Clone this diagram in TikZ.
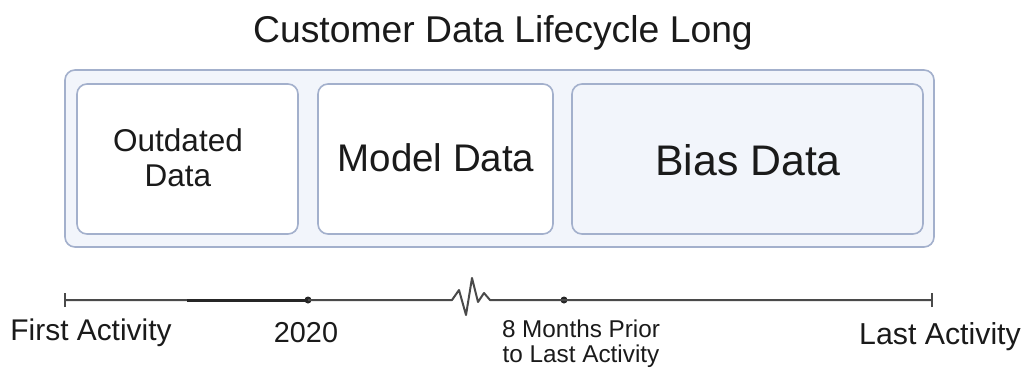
\documentclass[tikz,border=0pt]{standalone}
\usepackage{fontspec}
\setmainfont{Liberation Sans}
\definecolor{panelfill}{HTML}{F2F5FB}
\definecolor{panelline}{HTML}{A3B0CC}
\definecolor{axisgray}{HTML}{4A4A4A}
\definecolor{axisdark}{HTML}{262626}
\definecolor{txt}{HTML}{1A1A1A}
\tikzset{
  panel/.style={draw=panelline, line width=1.6pt, rounded corners=10pt, fill=#1, inner sep=0pt},
  lbl/.style={text=txt, inner sep=0pt, anchor=base},
  axis/.style={draw=axisgray, line width=2pt},
  tick/.style={draw=axisgray, line width=2pt},
  dotmark/.style={circle, fill=axisdark, inner sep=0pt, minimum size=7pt}
}
\begin{document}
\begin{tikzpicture}[x=1pt, y=-1pt]
\useasboundingbox (0,0) rectangle (1027,370);
% title
\node[lbl, font=\fontsize{37.3}{44}\selectfont] (title) at (503,42) {Customer Data Lifecycle Long};
% outer panel
\node[panel=panelfill, minimum width=869pt, minimum height=177pt] (outer) at (499.5,158.5) {};
% inner boxes
\node[panel=white, minimum width=221pt, minimum height=150pt] (b1) at (187.5,159) {};
\node[panel=white, minimum width=235pt, minimum height=150pt] (b2) at (435.5,159) {};
\node[panel=panelfill, minimum width=351pt, minimum height=150pt] (b3) at (747.5,159) {};
\node[text=txt, inner sep=0pt, align=center, font=\fontsize{31.5}{35}\selectfont] (t1) at (178,158) {Outdated\\Data};
\node[lbl, font=\fontsize{38.5}{45}\selectfont] (t2) at (436,171) {Model Data};
\node[lbl, font=\fontsize{42.8}{50}\selectfont] (t3) at (748,175) {Bias Data};
% timeline
\coordinate (start) at (65,300);
\coordinate (zs) at (452,300);
\coordinate (ze) at (490,300);
\coordinate (finish) at (932,300);
\coordinate (thick) at (187,300);
\node[dotmark] (d2020) at (308,300) {};
\node[dotmark] (d8m) at (564,300) {};
\draw[axis, line join=round] (start) -- (zs) -- ++(7,-10) -- ++(7,25) -- ++(6,-37) -- ++(6,24) -- ++(6,-9) -- (ze) -- (finish);
\draw[draw=axisdark, line width=3pt] (thick) -- (d2020.center);
\draw[tick] ([yshift=-7pt]start) -- ([yshift=7pt]start);
\draw[tick] ([yshift=-7pt]finish) -- ([yshift=7pt]finish);
% labels
\node[lbl, font=\fontsize{29.9}{34}\selectfont] (l1) at (91,340) {First Activity};
\node[lbl, font=\fontsize{28.8}{33}\selectfont] (l2) at (306,342) {2020};
\node[lbl, font=\fontsize{24.3}{27}\selectfont] (l3a) at (581,337) {8 Months Prior};
\node[lbl, font=\fontsize{24.3}{27}\selectfont] (l3b) at (581,362) {to Last Activity};
\node[lbl, font=\fontsize{30.3}{34}\selectfont] (l4) at (940,344) {Last Activity};
\end{tikzpicture}
\end{document}
